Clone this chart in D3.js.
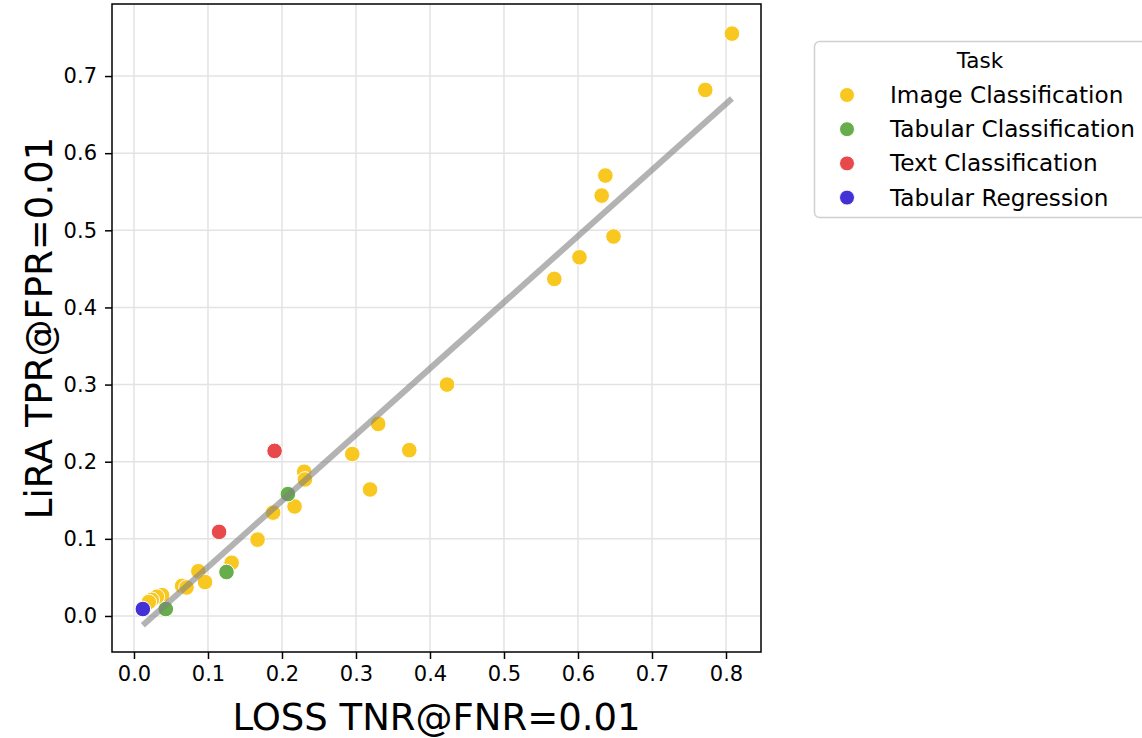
<!DOCTYPE html>
<html>
<head>
<meta charset="utf-8">
<script src="https://cdn.jsdelivr.net/npm/d3@7"></script>
<style>
  body { margin: 0; background: #ffffff; }
  svg text { font-family: "DejaVu Sans", sans-serif; fill: #000; }
</style>
</head>
<body>
<div id="chart"></div>
<script>
// ─── DATA ───────────────────────────────────────────────────────
const tasks = ['Image Classification', 'Tabular Classification', 'Text Classification', 'Tabular Regression']
const taskColors = ['#f8c820', '#67ad4b', '#e8494a', '#4331d6']

// LOSS TNR@FNR=0.01 (x) and LiRA TPR@FPR=0.01 (y) per task
const imageX = [0.808, 0.772, 0.637, 0.632, 0.648, 0.602, 0.568, 0.423, 0.330, 0.372, 0.295, 0.319,
  0.230, 0.231, 0.217, 0.188, 0.167, 0.132, 0.087, 0.096, 0.065, 0.071, 0.038, 0.031, 0.024, 0.020]
const imageY = [0.755, 0.682, 0.571, 0.545, 0.492, 0.465, 0.437, 0.300, 0.249, 0.215, 0.210, 0.164,
  0.187, 0.177, 0.142, 0.134, 0.099, 0.069, 0.058, 0.044, 0.039, 0.037, 0.027, 0.025, 0.021, 0.018]
const tabularX = [0.208, 0.125, 0.043]
const tabularY = [0.158, 0.057, 0.009]
const textX = [0.190, 0.115]
const textY = [0.214, 0.109]
const regressionX = [0.012]
const regressionY = [0.009]

// fitted trend line (end points)
const fitX = [0.012, 0.808]
const fitY = [-0.012, 0.671]

const xTicks = [0, 0.1, 0.2, 0.3, 0.4, 0.5, 0.6, 0.7, 0.8]
const yTicks = [0, 0.1, 0.2, 0.3, 0.4, 0.5, 0.6, 0.7]

const series = [
  { task: tasks[0], xs: imageX, ys: imageY },
  { task: tasks[1], xs: tabularX, ys: tabularY },
  { task: tasks[2], xs: textX, ys: textY },
  { task: tasks[3], xs: regressionX, ys: regressionY }
]

// ─── LAYOUT ─────────────────────────────────────────────────────
const W = 1142, H = 738
const PLOT = { LEFT: 112, RIGHT: 761, TOP: 4, BOTTOM: 652 }

const svg = d3.select('#chart').append('svg')
  .attr('width', W)
  .attr('height', H)

const x = d3.scaleLinear()
  .domain([-0.0297, 0.8473])
  .range([PLOT.LEFT, PLOT.RIGHT])

const y = d3.scaleLinear()
  .domain([-0.0467, 0.7934])
  .range([PLOT.BOTTOM, PLOT.TOP])

const color = d3.scaleOrdinal().domain(tasks).range(taskColors)

// grid
svg.append('g')
  .selectAll('line.gx')
  .data(xTicks)
  .join('line')
    .attr('x1', d => x(d)).attr('x2', d => x(d))
    .attr('y1', PLOT.TOP).attr('y2', PLOT.BOTTOM)
    .attr('stroke', '#e3e3e3').attr('stroke-width', 1.5)
svg.append('g')
  .selectAll('line.gy')
  .data(yTicks)
  .join('line')
    .attr('y1', d => y(d)).attr('y2', d => y(d))
    .attr('x1', PLOT.LEFT).attr('x2', PLOT.RIGHT)
    .attr('stroke', '#e3e3e3').attr('stroke-width', 1.5)

// ─── POINTS ─────────────────────────────────────────────────────
const points = series.flatMap(s => s.xs.map((v, i) => ({ task: s.task, x: v, y: s.ys[i] })))

svg.append('g')
  .selectAll('circle')
  .data(points)
  .join('circle')
    .attr('cx', d => x(d.x))
    .attr('cy', d => y(d.y))
    .attr('r', 7.8)
    .attr('fill', d => color(d.task))
    .attr('stroke', '#ffffff')
    .attr('stroke-width', 1)

// trend line on top
svg.append('path')
  .datum(fitX.map((v, i) => [v, fitY[i]]))
  .attr('d', d3.line().x(d => x(d[0])).y(d => y(d[1])))
  .attr('stroke', '#808080')
  .attr('stroke-opacity', 0.6)
  .attr('stroke-width', 6)
  .attr('fill', 'none')

// ─── AXES ───────────────────────────────────────────────────────
const xAxis = svg.append('g')
  .attr('transform', `translate(0, ${PLOT.BOTTOM})`)
  .call(d3.axisBottom(x).tickValues(xTicks).tickFormat(d3.format('.1f')).tickSize(7).tickPadding(7))
const yAxis = svg.append('g')
  .attr('transform', `translate(${PLOT.LEFT}, 0)`)
  .call(d3.axisLeft(y).tickValues(yTicks).tickFormat(d3.format('.1f')).tickSize(7).tickPadding(8))

for (const ax of [xAxis, yAxis]) {
  ax.select('.domain').remove()
  ax.selectAll('line').attr('stroke', '#000').attr('stroke-width', 1.5)
  ax.selectAll('text').attr('font-size', 21).attr('font-family', 'DejaVu Sans')
}

// frame
svg.append('rect')
  .attr('x', PLOT.LEFT).attr('y', PLOT.TOP)
  .attr('width', PLOT.RIGHT - PLOT.LEFT).attr('height', PLOT.BOTTOM - PLOT.TOP)
  .attr('fill', 'none').attr('stroke', '#000').attr('stroke-width', 1.5)

// labels
svg.append('text')
  .attr('x', (PLOT.LEFT + PLOT.RIGHT) / 2)
  .attr('y', 730)
  .attr('text-anchor', 'middle')
  .attr('font-size', 37)
  .text('LOSS TNR@FNR=0.01')
svg.append('text')
  .attr('transform', `translate(52, ${(PLOT.TOP + PLOT.BOTTOM) / 2}) rotate(-90)`)
  .attr('text-anchor', 'middle')
  .attr('font-size', 37)
  .text('LiRA TPR@FPR=0.01')

// ─── LEGEND ─────────────────────────────────────────────────────
const legend = svg.append('g')
legend.append('rect')
  .attr('x', 814.5).attr('y', 41.5)
  .attr('width', 334).attr('height', 176)
  .attr('rx', 5)
  .attr('fill', '#fff').attr('fill-opacity', 0.8)
  .attr('stroke', '#d0d0d0').attr('stroke-width', 1.5)
legend.append('text')
  .attr('x', 980).attr('y', 68)
  .attr('text-anchor', 'middle')
  .attr('font-size', 21.5)
  .text('Task')

const items = legend.selectAll('g.item')
  .data(tasks)
  .join('g')
    .attr('transform', (d, i) => `translate(847, ${95 + i * 34.2})`)
items.append('circle')
  .attr('r', 7.5)
  .attr('fill', d => color(d))
  .attr('stroke', '#fff').attr('stroke-width', 1)
items.append('text')
  .attr('x', 43).attr('y', 8)
  .attr('font-size', 23.2)
  .text(d => d)
</script>
</body>
</html>
